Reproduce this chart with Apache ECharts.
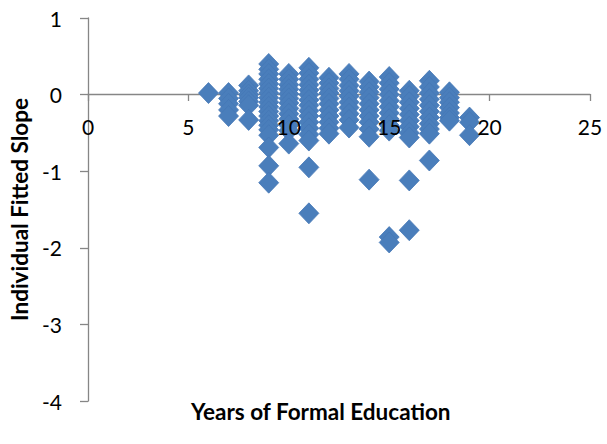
<!DOCTYPE html>
<html>
<head>
<meta charset="utf-8">
<script src="https://cdn.jsdelivr.net/npm/echarts@6/dist/echarts.min.js"></script>
<style>
  html, body { margin: 0; padding: 0; background: #fff; }
  #chart { width: 607px; height: 444px; }
</style>
</head>
<body>
<div id="chart"></div>
<script>
// Years of formal education (x) and the fitted slopes observed at each year
const educationYears = [6, 7, 8, 9, 10, 11, 12, 13, 14, 15, 16, 17, 18, 19];
const slopesByYear = [
  [0.02],
  [0.02, -0.05, -0.12, -0.2, -0.28],
  [0.12, 0.05, 0.0, -0.04, -0.09, -0.14, -0.33],
  [0.4, 0.33, 0.27, 0.2, 0.14, 0.08, 0.02, -0.04, -0.1, -0.16, -0.22, -0.28, -0.34, -0.4, -0.46, -0.53, -0.69, -0.93, -1.15],
  [0.27, 0.2, 0.13, 0.07, 0.01, -0.05, -0.11, -0.18, -0.25, -0.32, -0.4, -0.47, -0.64],
  [0.35, 0.28, 0.2, 0.13, 0.06, 0.0, -0.07, -0.14, -0.21, -0.28, -0.36, -0.44, -0.52, -0.6, -0.95, -1.55],
  [0.22, 0.15, 0.08, 0.02, -0.05, -0.12, -0.2, -0.28, -0.36, -0.44, -0.51],
  [0.27, 0.2, 0.12, 0.05, -0.02, -0.1, -0.17, -0.25, -0.33, -0.43],
  [0.17, 0.1, 0.03, -0.04, -0.12, -0.2, -0.28, -0.36, -0.45, -0.55, -1.11],
  [0.23, 0.15, 0.07, 0.0, -0.08, -0.16, -0.24, -0.32, -0.4, -0.47, -1.86, -1.93],
  [0.05, -0.02, -0.1, -0.18, -0.26, -0.34, -0.42, -0.5, -0.56, -1.12, -1.77],
  [0.18, 0.1, 0.02, -0.06, -0.14, -0.22, -0.3, -0.38, -0.45, -0.51, -0.86],
  [0.03, -0.04, -0.1, -0.17, -0.24, -0.3, -0.34],
  [-0.3, -0.36, -0.53]
];

// tick labels along the horizontal axis
const xTickValues = [0, 5, 10, 15, 20, 25];

const xTitle = 'Years of Formal Education';
const yTitle = 'Individual Fitted Slope';

const points = [];
educationYears.forEach((yr, i) => {
  slopesByYear[i].forEach(s => points.push([yr, s]));
});

const axisGray = '#868686';
const font = 'Lato, "Open Sans", sans-serif';

const chart = echarts.init(document.getElementById('chart'), null, { renderer: 'svg' });
chart.setOption({
  animation: false,
  backgroundColor: '#ffffff',
  title: {
    text: xTitle,
    left: 191,
    top: 400,
    padding: 0,
    textStyle: { fontFamily: font, fontWeight: 'bold', fontSize: 22.5, color: '#000' }
  },
  grid: { left: 88, right: 17, top: 18, bottom: 43, containLabel: false },
  xAxis: {
    type: 'value',
    min: 0, max: 25, interval: 5,
    // horizontal axis drawn through y = 0 (307 px above the plot's bottom edge)
    offset: -307,
    axisLine: { show: true, onZero: false, lineStyle: { color: axisGray, width: 1.3 } },
    axisTick: { show: true, inside: false, length: 7, lineStyle: { color: axisGray, width: 1.3 } },
    axisLabel: { show: false },
    splitLine: { show: false }
  },
  yAxis: {
    type: 'value',
    min: -4, max: 1, interval: 1,
    name: yTitle,
    nameLocation: 'middle',
    nameGap: 53,
    nameTextStyle: { fontFamily: font, fontWeight: 'bold', fontSize: 22.5, color: '#000' },
    axisLine: { show: true, onZero: false, lineStyle: { color: axisGray, width: 1.3 } },
    axisTick: { show: true, length: 8, lineStyle: { color: axisGray, width: 1.3 } },
    axisLabel: { margin: 26, fontFamily: font, fontSize: 21, color: '#000' },
    splitLine: { show: false }
  },
  series: [
    {
      type: 'scatter',
      data: points,
      symbol: 'diamond',
      symbolSize: [20, 21],
      z: 2,
      itemStyle: { color: '#4a7ebb', borderColor: '#4577b6', borderWidth: 0.8, opacity: 1 }
    }
  ]
});

// x tick labels sit just under the zero line and are painted over the markers
chart.setOption({
  graphic: xTickValues.map(v => {
    const [px, py] = chart.convertToPixel({ xAxisIndex: 0, yAxisIndex: 0 }, [v, 0]);
    return {
      type: 'text',
      x: px,
      y: py + 21,
      z: 100,
      silent: true,
      style: {
        text: String(v),
        align: 'center',
        verticalAlign: 'top',
        fill: '#000',
        font: '21px ' + font
      }
    };
  })
});
</script>
</body>
</html>
